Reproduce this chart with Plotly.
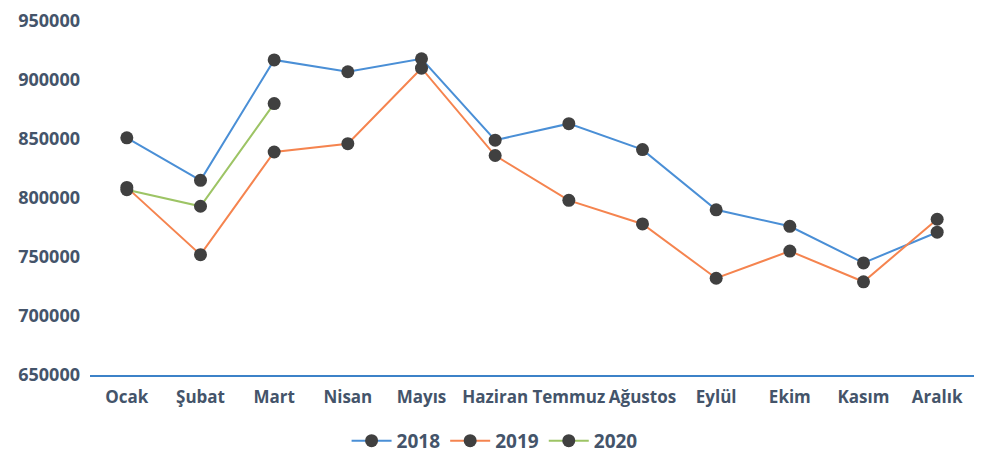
import plotly.graph_objects as go

months = ["Ocak", "Şubat", "Mart", "Nisan", "Mayıs", "Haziran", "Temmuz",
          "Ağustos", "Eylül", "Ekim", "Kasım", "Aralık"]
y2018 = [851000, 815000, 917000, 907000, 918000, 849000, 863000, 841000,
         790000, 776000, 745000, 771000]
y2019 = [809000, 752000, 839000, 846000, 910000, 836000, 798000, 778000,
         732000, 755000, 729000, 782000]
y2020 = [807000, 793000, 880000]

series = [("2018", y2018, "#4A8FD6"), ("2019", y2019, "#F5844F"), ("2020", y2020, "#9DC465")]

fig = go.Figure()
for name, vals, col in series:
    fig.add_trace(go.Scatter(
        x=months[:len(vals)], y=vals, name=name, mode="lines+markers",
        line=dict(color=col, width=2),
        marker=dict(color="#404040", size=13),
    ))

font = dict(family="Open Sans", size=19, color="#44546A", weight=700)
yfont = dict(family="Open Sans", size=18, color="#44546A", weight=700)
xfont = dict(family="Open Sans", size=17, color="#44546A", weight=700)
fig.update_layout(
    width=983, height=459,
    margin=dict(l=82, r=17, t=13, b=92, autoexpand=False),
    paper_bgcolor="white", plot_bgcolor="white",
    font=font,
    showlegend=True,
    legend=dict(orientation="h", xref="container", yref="container",
                x=0.495, xanchor="center", y=0.057, yanchor="middle",
                font=font, itemwidth=40),
)
fig.update_xaxes(type="category", range=[-0.5, 11.5], showgrid=False,
                 showline=True, linecolor="#3C82C8", linewidth=2,
                 ticks="", tickfont=xfont, tickangle=0, ticklabelstandoff=6,
                 ticklabeloverflow="allow", automargin=False)
fig.update_yaxes(range=[650000, 950000], dtick=50000, showgrid=False,
                 showline=False, zeroline=False, ticks="", tickfont=yfont,
                 tickformat="d", ticklabelstandoff=9,
                 ticklabeloverflow="allow", automargin=False)

fig.write_html("out.html")
